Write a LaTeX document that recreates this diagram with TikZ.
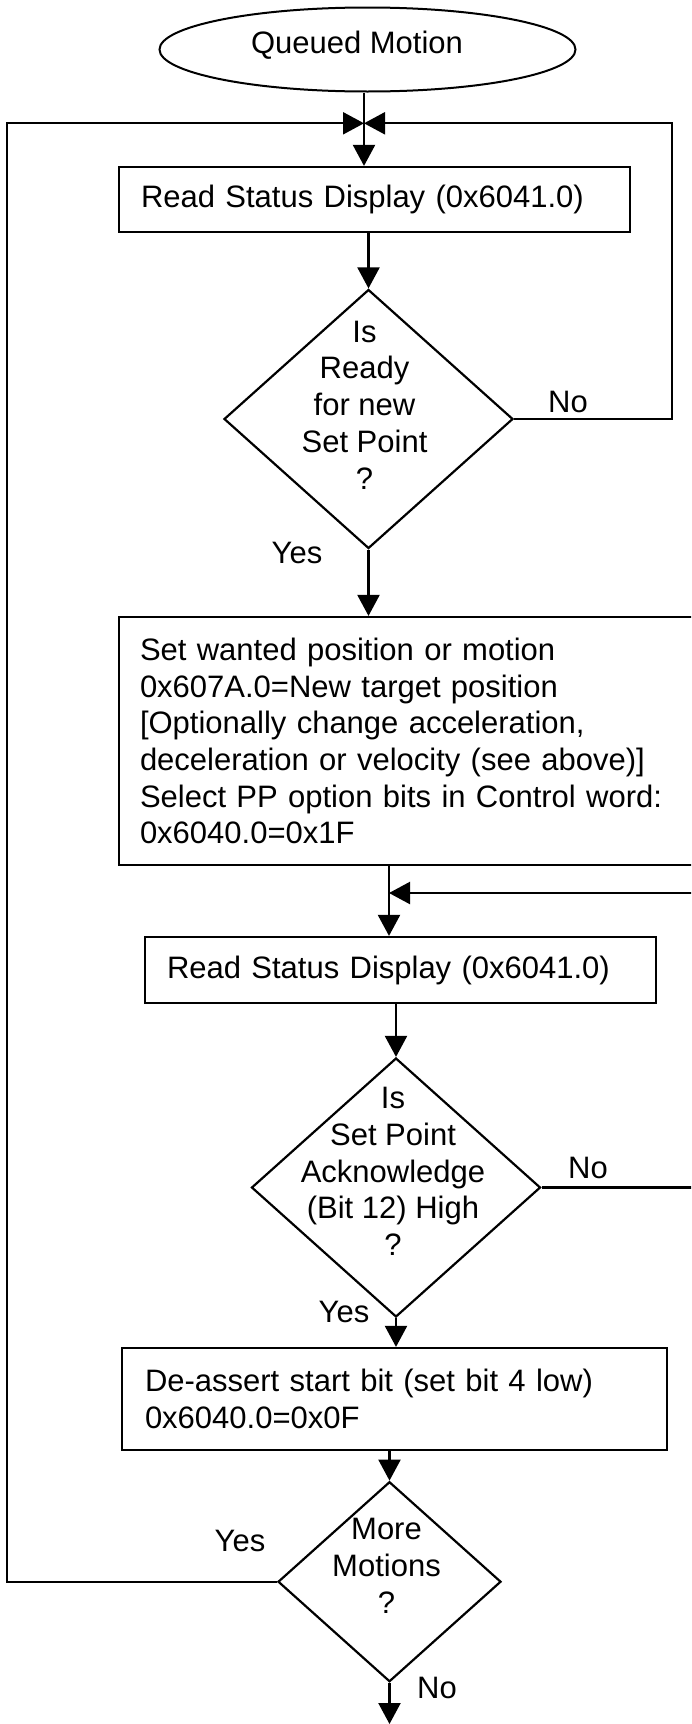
\documentclass[tikz,border=0pt]{standalone}
\usepackage{fontspec}
\setmainfont{Liberation Sans}
\usetikzlibrary{shapes.geometric,arrows.meta}
\begin{document}
\begin{tikzpicture}[x=1pt,y=-1pt,
  every node/.style={font=\fontsize{31}{36.7}\selectfont},
  flow/.style={line width=2.2pt},
  arr/.style={flow,-{Triangle[length=21pt,width=22pt]}},
  procbox/.style={draw,line width=2.2pt,rectangle,align=left,inner ysep=0pt},
  dec/.style={draw,line width=2.2pt,diamond,inner sep=0pt},
  dectext/.style={align=center,inner sep=0pt},
  lbl/.style={inner sep=0pt}
]
\useasboundingbox (0,0) rectangle (691,1724);
\clip (0,0) rectangle (691,1724);

% nodes
\node[draw,ellipse,line width=2pt,minimum width=416pt,minimum height=84pt,inner sep=0pt] (e) at (367.5,49.5) {};
\node[lbl] (et) at (357,45) {Queued Motion};

\node[procbox,inner xsep=22pt,text width=467pt,minimum height=65pt] (b1) at (374.5,199.5) {Read Status Display (0x6041.0)};

\node[dec,minimum width=289pt,minimum height=259pt] (d1) at (368.5,419) {};
\node[dectext] (t1) at ([shift={(-4,-14)}]d1.center) {Is\\Ready\\for new\\Set Point\\?};

\node[procbox,inner xsep=21pt,text width=539pt,minimum height=248pt] (b2) at (409.5,741) {Set wanted position or motion\\0x607A.0=New target position\\{[Optionally} change acceleration,\\deceleration or velocity (see above)]\\Select PP option bits in Control word:\\0x6040.0=0x1F};

\node[procbox,inner xsep=22pt,text width=467pt,minimum height=66pt] (b3) at (400.5,970) {Read Status Display (0x6041.0)};

\node[dec,minimum width=289pt,minimum height=259pt] (d2) at (396,1187.5) {};
\node[dectext] (t2) at ([shift={(-3,-16)}]d2.center) {Is\\Set Point\\Acknowledge\\(Bit 12) High\\?};

\node[procbox,inner xsep=23pt,text width=499pt,minimum height=102pt] (b4) at (394.5,1399) {De-assert start bit (set bit 4 low)\\0x6040.0=0x0F};

\node[dec,minimum width=223pt,minimum height=200pt] (d3) at (389.5,1581.7) {};
\node[dectext] (t3) at ([shift={(-3,-16)}]d3.center) {More\\Motions\\?};

% labels
\node[lbl] (n1) at (568,402) {No};
\node[lbl] (y1) at (297,553) {Yes};
\node[lbl] (n2) at (588,1168) {No};
\node[lbl] (y2) at (344,1312) {Yes};
\node[lbl] (y3) at (240,1541) {Yes};
\node[lbl] (n3) at (437,1688) {No};

% coordinates
\coordinate (j) at (364,123.3);
\coordinate (lt) at (7,123.3);
\coordinate (rt) at (672,123.3);
\coordinate (k) at (389,893);
\coordinate (rk) at (720,893);
\coordinate (endc) at (389.5,1724);

% connectors
\draw[arr] (j |- e.south) -- (j |- b1.north);
\draw[arr] (d3.west) -| (lt) -- (j);
\draw[arr] (d1.east) -| (rt) -- (j);
\draw[arr] (d1.north |- b1.south) -- (d1.north);
\draw[arr] (d1.south) -- (d1.south |- b2.north);
\draw[arr] (k |- b2.south) -- (k |- b3.north);
\draw[arr] (d2.east) -| (rk) -- (k);
\draw[arr] (d2.north |- b3.south) -- (d2.north);
\draw[arr] (d2.south) -- (d2.south |- b4.north);
\draw[arr] (d3.north |- b4.south) -- (d3.north);
\draw[arr] (d3.south) -- (endc);
\end{tikzpicture}
\end{document}
